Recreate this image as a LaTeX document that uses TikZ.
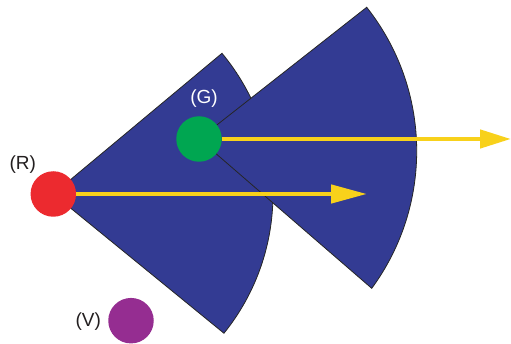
\documentclass[tikz,border=0pt]{standalone}
\usepackage{fontspec}
\setmainfont{Liberation Sans}
\usetikzlibrary{arrows.meta}
\definecolor{fanblue}{HTML}{333B93}
\definecolor{dotred}{HTML}{EC2A2F}
\definecolor{dotgreen}{HTML}{00A651}
\definecolor{dotpurple}{HTML}{952D91}
\definecolor{rayyellow}{HTML}{F8D11B}
\definecolor{labelgray}{HTML}{231F20}
\begin{document}
\begin{tikzpicture}[x=1pt,y=1pt,
  fan/.style={fill=fanblue,draw=black!85,line width=0.8pt,line join=miter},
  dot/.style={circle,minimum size=45.5pt,inner sep=0pt,draw=none},
  ray/.style={draw=rayyellow,line width=4.5pt,-{Triangle[length=36pt,width=18pt]}},
  lbl/.style={font=\fontsize{19}{19}\selectfont,text=labelgray,inner sep=0pt}]
\useasboundingbox (0,0) rectangle (511,344);
\coordinate (Rc) at (53.3,150);
\coordinate (Gc) at (199,205);
\coordinate (Vc) at (131,23.3);
% sectors
\draw[fan] (Rc) -- (222,290.7) arc[start angle=39.7,end angle=-38.9,radius=221] -- cycle;
\draw[fan] (Gc) -- (366.7,336.7) arc[start angle=38.35,end angle=-36.3,radius=231.8] -- cycle;
% circles
\node[dot,fill=dotred] (R) at (Rc) {};
\node[dot,fill=dotgreen] (G) at (Gc) {};
\node[dot,fill=dotpurple] (V) at (Vc) {};
% rays
\coordinate (Rend) at (367,150);
\coordinate (Gend) at (511,205);
\draw[ray] (R.east) -- (Rend);
\draw[ray,-{Triangle[length=31pt,width=18pt]}] (G.east) -- (Gend);
% labels
\node[lbl] (Rl) at (22.7,179) {(R)};
\node[lbl,text=white] (Gl) at (204,245) {(G)};
\node[lbl] (Vl) at (88.3,22.3) {(V)};
\end{tikzpicture}
\end{document}
